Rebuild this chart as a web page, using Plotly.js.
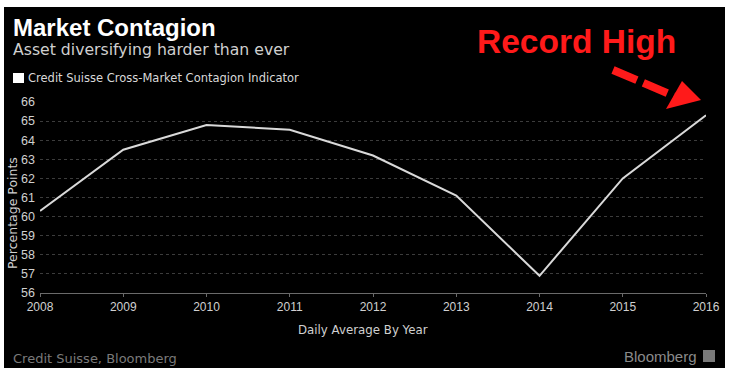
<!DOCTYPE html>
<html><head><meta charset="utf-8">
<script src="https://cdn.plot.ly/plotly-3.0.1.min.js"></script>
<style>html,body{margin:0;padding:0;background:#fff;}</style>
</head><body><div id="chart" style="width:731px;height:373px;"></div>
<script>
const years = [2008, 2009, 2010, 2011, 2012, 2013, 2014, 2015, 2016];
const contagion = [60.3, 63.5, 64.8, 64.55, 63.2, 61.1, 56.9, 62.0, 65.3];
const yTicks = [56, 57, 58, 59, 60, 61, 62, 63, 64, 65, 66];
const xTicks = [2008, 2009, 2010, 2011, 2012, 2013, 2014, 2015, 2016];

const W = 731, H = 373;
const M = {l: 40, r: 25, t: 102, b: 80};
const pw = W - M.l - M.r, ph = H - M.t - M.b;
const px = x => (x - M.l) / pw;
const py = y => (H - M.b - y) / ph;
const F = 'Liberation Sans, Arial, sans-serif';
const D = 'DejaVu Sans, Verdana, sans-serif';

const trace = {
  x: years, y: contagion, type: 'scatter', mode: 'lines',
  line: {color: '#d9d9d9', width: 2}, showlegend: false, hoverinfo: 'skip'
};

const layout = {
  width: W, height: H,
  margin: M,
  paper_bgcolor: '#ffffff',
  plot_bgcolor: 'rgba(0,0,0,0)',
  font: {family: F, color: '#cfcfcf', size: 12},
  xaxis: {
    range: [2008, 2016], tickvals: xTicks, ticktext: xTicks.map(String),
    showgrid: false, zeroline: false, showline: true, linecolor: '#6a6a6a', linewidth: 1,
    ticks: 'outside', ticklen: 3, tickcolor: '#6a6a6a',
    tickfont: {family: F, size: 12, color: '#d0d0d0'}, fixedrange: true
  },
  yaxis: {
    range: [56, 66], tickvals: yTicks, ticktext: yTicks.map(String),
    showgrid: true, gridcolor: '#3c3c3c', griddash: 'dot', gridwidth: 1,
    zeroline: false, showline: false, ticks: '', ticklabelstandoff: 4,
    tickfont: {family: F, size: 12.5, color: '#d0d0d0'}, fixedrange: true
  },
  shapes: [
    {type: 'rect', xref: 'paper', yref: 'paper', layer: 'below',
     x0: px(4), x1: px(725), y0: py(368), y1: py(7),
     fillcolor: '#000000', line: {width: 0}},
    {type: 'rect', xref: 'paper', yref: 'paper',
     x0: px(13), x1: px(24), y0: py(83), y1: py(73),
     fillcolor: '#ffffff', line: {width: 0}},
    {type: 'rect', xref: 'paper', yref: 'paper',
     x0: px(703), x1: px(715), y0: py(362), y1: py(350),
     fillcolor: '#7a7a7a', line: {width: 0}},
    {type: 'line', xref: 'paper', yref: 'paper',
     x0: px(613), y0: py(70), x1: px(674), y1: py(96),
     line: {color: '#ff1a1a', width: 8, dash: '26px,7px'}},
    {type: 'path', xref: 'paper', yref: 'paper',
     path: 'M ' + px(666) + ' ' + py(109) + ' L ' + px(682) + ' ' + py(81) + ' L ' + px(701) + ' ' + py(100) + ' Z',
     fillcolor: '#ff1a1a', line: {width: 0}}
  ],
  annotations: [
    {text: '<b>Market Contagion</b>', xref: 'paper', yref: 'paper', x: px(11), y: py(27),
     xanchor: 'left', yanchor: 'middle', showarrow: false,
     font: {family: F, size: 24, color: '#ffffff'}},
    {text: 'Asset diversifying harder than ever', xref: 'paper', yref: 'paper', x: px(11), y: py(49),
     xanchor: 'left', yanchor: 'middle', showarrow: false,
     font: {family: D, size: 15.7, color: '#cfcfcf'}},
    {text: 'Credit Suisse Cross-Market Contagion Indicator', xref: 'paper', yref: 'paper', x: px(26), y: py(78),
     xanchor: 'left', yanchor: 'middle', showarrow: false,
     font: {family: D, size: 11.5, color: '#d8d8d8'}},
    {text: 'Percentage Points', xref: 'paper', yref: 'paper', x: px(12), y: py(213),
     xanchor: 'center', yanchor: 'middle', textangle: -90, showarrow: false,
     font: {family: D, size: 12.5, color: '#d0d0d0'}},
    {text: 'Daily Average By Year', xref: 'paper', yref: 'paper', x: px(363), y: py(330),
     xanchor: 'center', yanchor: 'middle', showarrow: false,
     font: {family: D, size: 11.8, color: '#d0d0d0'}},
    {text: 'Credit Suisse, Bloomberg', xref: 'paper', yref: 'paper', x: px(11), y: py(358),
     xanchor: 'left', yanchor: 'middle', showarrow: false,
     font: {family: D, size: 13, color: '#7a7a7a'}},
    {text: 'Bloomberg', xref: 'paper', yref: 'paper', x: px(699), y: py(356),
     xanchor: 'right', yanchor: 'middle', showarrow: false,
     font: {family: F, size: 15, color: '#8a8a8a'}},
    {text: '<b>Record High</b>', xref: 'paper', yref: 'paper', x: px(576), y: py(42),
     xanchor: 'center', yanchor: 'middle', showarrow: false,
     font: {family: F, size: 33.5, color: '#ff1a1a'}}
  ]
};

Plotly.newPlot('chart', [trace], layout, {staticPlot: true, displayModeBar: false});
</script></body></html>
